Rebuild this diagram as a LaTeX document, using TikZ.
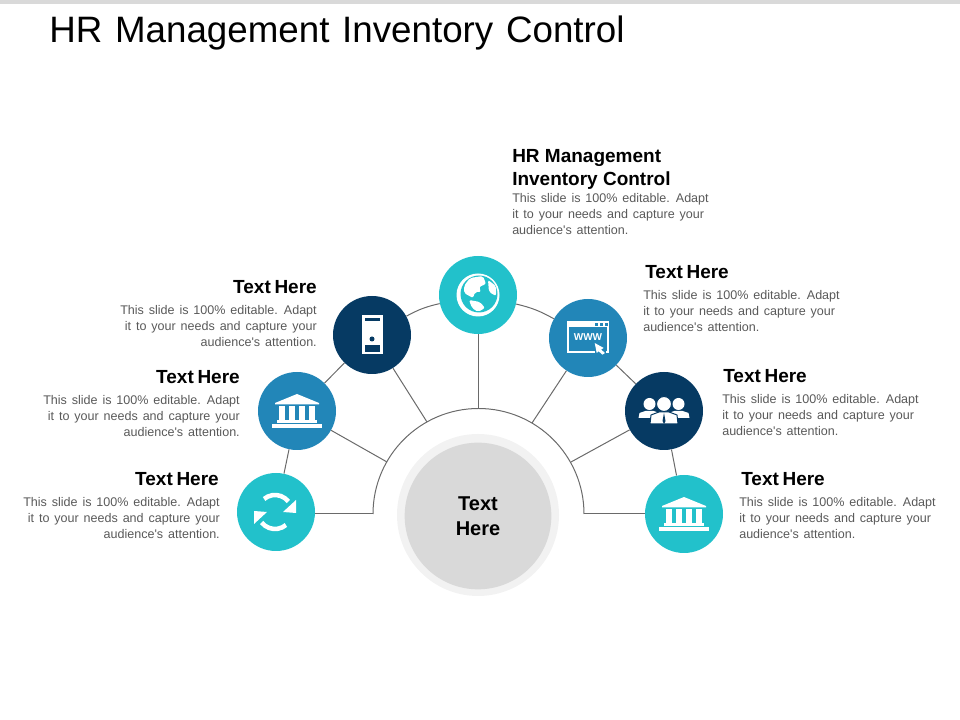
\documentclass[tikz,border=0pt]{standalone}
\usepackage{fontspec}
\setmainfont{Liberation Sans}
\newfontfamily\widefont[WordSpace=1.4, Scale=1.001]{Liberation Sans}
\newfontfamily\titlefont[WordSpace=1.25, Scale=1.002]{Liberation Sans}
\newfontfamily\headfont[WordSpace=0.7, Scale=0.999]{Liberation Sans}
\definecolor{tealc}{HTML}{22C1CB}
\definecolor{bluec}{HTML}{2286B8}
\definecolor{navyc}{HTML}{063A63}
\definecolor{hubc}{HTML}{D9D9D9}
\definecolor{ringc}{HTML}{F2F2F2}
\definecolor{linec}{HTML}{6A6A6A}
\definecolor{bodyc}{HTML}{595959}
\tikzset{
	disc/.style={circle, minimum size=58.5pt, inner sep=0pt, fill=#1},
	link/.style={draw=linec, line width=0.75pt},
	headtext/.style={inner sep=0pt, font=\headfont\fontsize{14.25}{17.25}\selectfont\bfseries, text=black},
	bodytext/.style={inner sep=0pt, font=\widefont\fontsize{9.4}{12}\selectfont, text=bodyc}
}
\newcommand{\bankIcon}[2]{
	\begin{scope}[shift={(#1,#2)}, white]
		\fill (0,17) -- (22,8) -- (22,6.5) -- (-22,6.5) -- (-22,8) -- cycle;
		\foreach \i in {-15.2,-5,5,15.2}
			\fill (\i-2.8,5) rectangle (\i+2.8,-9);
		\fill (-20,-9.5) rectangle (20,-12);
		\fill (-25,-13) rectangle (25,-17.5);
	\end{scope}
}
\begin{document}
\begin{tikzpicture}[x=0.75pt, y=0.75pt]
	\useasboundingbox (0,0) rectangle (960,720);
	\fill[hubc] (0,716) rectangle (960,720);
	\node[anchor=west, inner sep=0pt, font=\titlefont\fontsize{27.5}{32}\selectfont] (title) at (49,687) {HR Management Inventory Control};
	
	%Hub
	\node[circle, minimum size=121.5pt, inner sep=0pt, fill=ringc] (hubring) at (478,205) {};
	\node[circle, minimum size=110pt, inner sep=0pt, fill=hubc, align=center, font=\fontsize{15}{19}\selectfont\bfseries] (hub) at (478,204) {Text\\Here};
	
	%Outer circles
	\node[disc=tealc] (sync) at (276,208) {};
	\node[disc=bluec] (bank) at (297,309) {};
	\node[disc=navyc] (server) at (372,385) {};
	\node[disc=tealc] (globe) at (478,425) {};
	\node[disc=bluec] (www) at (588,382) {};
	\node[disc=navyc] (people) at (664,309) {};
	\node[disc=tealc] (bankb) at (684,206) {};
	
	%Half ring
	\coordinate (ringl) at (373,206);
	\coordinate (ringr) at (584,206);
	\coordinate (spokea) at (387,258);
	\coordinate (spokeb) at (427,298);
	\coordinate (spokec) at (478,311);
	\coordinate (spoked) at (532,297);
	\coordinate (spokee) at (571,258);
	\draw[link] (ringl) arc[start angle=180, end angle=0, radius=105.5];
	\draw[link] (sync.east |- ringl) -- (ringl);
	\draw[link] (bankb) -- (ringr);
	\draw[link] (bank) -- (spokea);
	\draw[link] (server) -- (spokeb);
	\draw[link] (globe) -- (spokec);
	\draw[link] (www) -- (spoked);
	\draw[link] (people) -- (spokee);
	
	%Outer links
	\draw[link] (sync) -- (bank);
	\draw[link] (bank) -- (server);
	\draw[link] (server) to[bend left=8] (globe);
	\draw[link] (globe) to[bend left=8] (www);
	\draw[link] (www) -- (people);
	\draw[link] (people) -- (bankb);
	
	%Icons
	\bankIcon{297}{309}
	\bankIcon{684}{206}
	
	%Server
	\begin{scope}[shift={(372,385)}]
		\fill[white] (-10.5,19.5) rectangle (10.5,-19.5);
		\fill[navyc] (-7.5,16.5) rectangle (7.5,13.5);
		\fill[navyc] (0,-4) circle[radius=2.5];
		\fill[navyc] (-7.5,-10) rectangle (7.5,-17);
	\end{scope}
	
	%Sync
	\begin{scope}[shift={(275,208)}]
		\foreach \a in {0,180}{
			\begin{scope}[rotate=\a]
				\draw[white, line width=3.4pt] (130:17) arc[start angle=130, end angle=38, radius=17];
				\fill[white] (21,12) -- (21,-1) -- (8,0) -- cycle;
			\end{scope}
		}
	\end{scope}
	
	%Globe
	\begin{scope}[shift={(478,425)}]
		\fill[white] (0,0) circle[radius=21.5];
		\fill[tealc] (1,1) circle[radius=18.5];
		\fill[white, rounded corners=1.5pt] (-14,9) -- (-8,17) -- (5,19) -- (8,11) -- (1,8) -- (3,3) -- (-3,3) -- (-5,-3) -- (-14,2) -- cycle;
		\fill[white, rounded corners=1.5pt] (-9,-5) -- (2,-7) -- (7,-13) -- (0,-17) -- (-6,-13) -- cycle;
		\fill[white, rounded corners=1.5pt] (10,15) -- (18,9) -- (18,-1) -- (11,3) -- cycle;
	\end{scope}
	
	%Browser
	\begin{scope}[shift={(588,382)}]
		\draw[white, line width=1pt] (6.5,-14) -- (-20,-14) -- (-20,16) -- (20,16) -- (20,-14) -- (18,-14);
		\fill[white] (-20,16) rectangle (20,10.5);
		\foreach \i in {6.5,11.5,16.5}
			\fill[bluec] (\i,15) rectangle (\i+3,11.5);
		\node[text=white, inner sep=0pt, font=\fontsize{7.5}{8}\selectfont\bfseries] (wwwtext) at (0,1) {WWW};
		\fill[white] (6.7,-5) -- (15.7,-10) -- (13,-11.5) -- (17,-15) -- (14.3,-16.7) -- (10.7,-13.3) -- (8.7,-15) -- cycle;
	\end{scope}
	
	%People
	\begin{scope}[shift={(664,309)}]
		\foreach \i in {-14.5,14.5}{
			\fill[white] (\i,7) circle[radius=6];
			\fill[white] (\i-11,-7) -- (\i-10,-2) -- (\i-4,0) -- (\i+4,0) -- (\i+10,-2) -- (\i+11,-7) -- cycle;
		}
		\fill[white, draw=navyc, line width=0.75pt] (-14,-13) -- (-13,-4) -- (-5,-1) -- (5,-1) -- (13,-4) -- (14,-13) -- cycle;
		\fill[white, draw=navyc, line width=0.75pt] (0,7) circle[radius=7.5];
		\fill[navyc] (0,-2) -- (1.5,-10) -- (0,-13) -- (-1.5,-10) -- cycle;
	\end{scope}
	
	%Texts
	\node[inner sep=0pt, font=\fontsize{14.25}{17.25}\selectfont\bfseries, anchor=north west, align=left] (headtop) at (512,571) {HR Management\\Inventory Control};
	\node[bodytext, anchor=north west, align=left] (bodytop) at (512,527) {This slide is 100\% editable. Adapt\\it to your needs and capture your\\audience's attention.};
	
	\node[headtext, anchor=west] (headwww) at (645,448) {Text Here};
	\node[bodytext, anchor=north west, align=left] (bodywww) at (643,430) {This slide is 100\% editable. Adapt\\it to your needs and capture your\\audience's attention.};
	
	\node[headtext, anchor=west] (headpeople) at (723,344) {Text Here};
	\node[bodytext, anchor=north west, align=left] (bodypeople) at (722,326) {This slide is 100\% editable. Adapt\\it to your needs and capture your\\audience's attention.};
	
	\node[headtext, anchor=west] (headbankb) at (741,241) {Text Here};
	\node[bodytext, anchor=north west, align=left] (bodybankb) at (739,223) {This slide is 100\% editable. Adapt\\it to your needs and capture your\\audience's attention.};
	
	\node[headtext, anchor=east] (headserver) at (317,433) {Text Here};
	\node[bodytext, anchor=north east, align=right] (bodyserver) at (317,415) {This slide is 100\% editable. Adapt\\it to your needs and capture your\\audience's attention.};
	
	\node[headtext, anchor=east] (headbank) at (240,343) {Text Here};
	\node[bodytext, anchor=north east, align=right] (bodybank) at (240,325) {This slide is 100\% editable. Adapt\\it to your needs and capture your\\audience's attention.};
	
	\node[headtext, anchor=east] (headsync) at (219,241) {Text Here};
	\node[bodytext, anchor=north east, align=right] (bodysync) at (220,223) {This slide is 100\% editable. Adapt\\it to your needs and capture your\\audience's attention.};
\end{tikzpicture}
\end{document}
